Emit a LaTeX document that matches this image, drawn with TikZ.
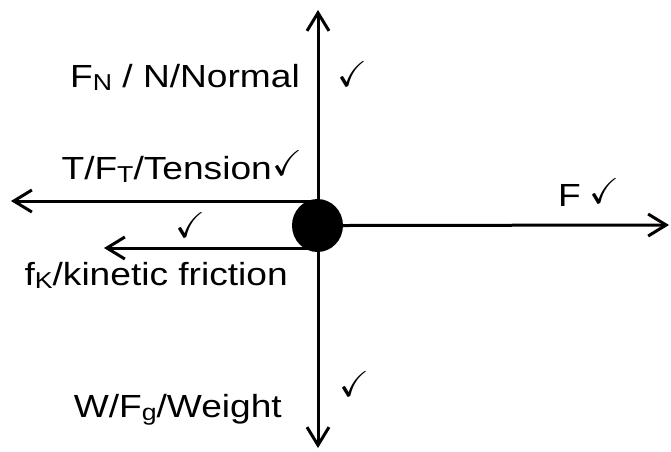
\documentclass[tikz,border=0pt]{standalone}
\usepackage{fontspec}
\usepackage{amssymb}
\setmainfont{Liberation Sans}
\usetikzlibrary{arrows.meta,shapes.geometric}
\newcommand\sbs[1]{\raisebox{-0.12em}{\fontsize{23}{23}\selectfont #1}}
\newcommand\hs[1]{\scalebox{1.16}[1]{#1}}
\tikzset{
  force/.style={line width=3pt, -{Straight Barb[length=18pt,width=22pt,line width=3pt]}},
  lbl/.style={inner sep=0pt, font=\fontsize{32}{32}\selectfont},
  chk/.style={inner sep=0pt, font=\fontsize{36}{36}\selectfont},
}
\begin{document}
\begin{tikzpicture}[x=1pt,y=-1pt]
\useasboundingbox (0,0) rectangle (671,451);
\coordinate (top) at (318,10);
\coordinate (bot) at (318,448);
\coordinate (tenS) at (318,201);
\coordinate (ten) at (11,201);
\coordinate (fricS) at (318,248);
\coordinate (fric) at (104,248);
\coordinate (fr) at (669,225);
\draw[force, {Straight Barb[length=18pt,width=22pt,line width=3pt]}-{Straight Barb[length=18pt,width=22pt,line width=3pt]}] (bot) -- (top);
\draw[force] (tenS) -- (ten);
\draw[force] (fricS) -- (fric);
\node[ellipse, fill=black, minimum width=51pt, minimum height=53pt, inner sep=0pt] (dot) at (317.5,225.5) {};
\draw[force] (dot.east) -- (fr);
\node[lbl, anchor=base east] (normal) at (300,87) {\hs{F\sbs{N} / N/Normal}};
\node[lbl, anchor=base east] (tension) at (272,179) {\hs{T/F\sbs{T}/Tension}};
\node[lbl, anchor=base east] (friction) at (288,285) {\hs{f\sbs{K}/kinetic friction}};
\node[lbl, anchor=base east] (weight) at (282,417) {\hs{W/F\sbs{g}/Weight}};
\node[lbl, anchor=base west] (force) at (558,206) {\hs{F}};
\node[chk] (c1) at (352,74) {$\checkmark$};
\node[chk] (c2) at (287,163) {$\checkmark$};
\node[chk] (c3) at (190,225) {$\checkmark$};
\node[chk] (c4) at (604,191) {$\checkmark$};
\node[chk] (c5) at (354,384) {$\checkmark$};
\end{tikzpicture}
\end{document}
